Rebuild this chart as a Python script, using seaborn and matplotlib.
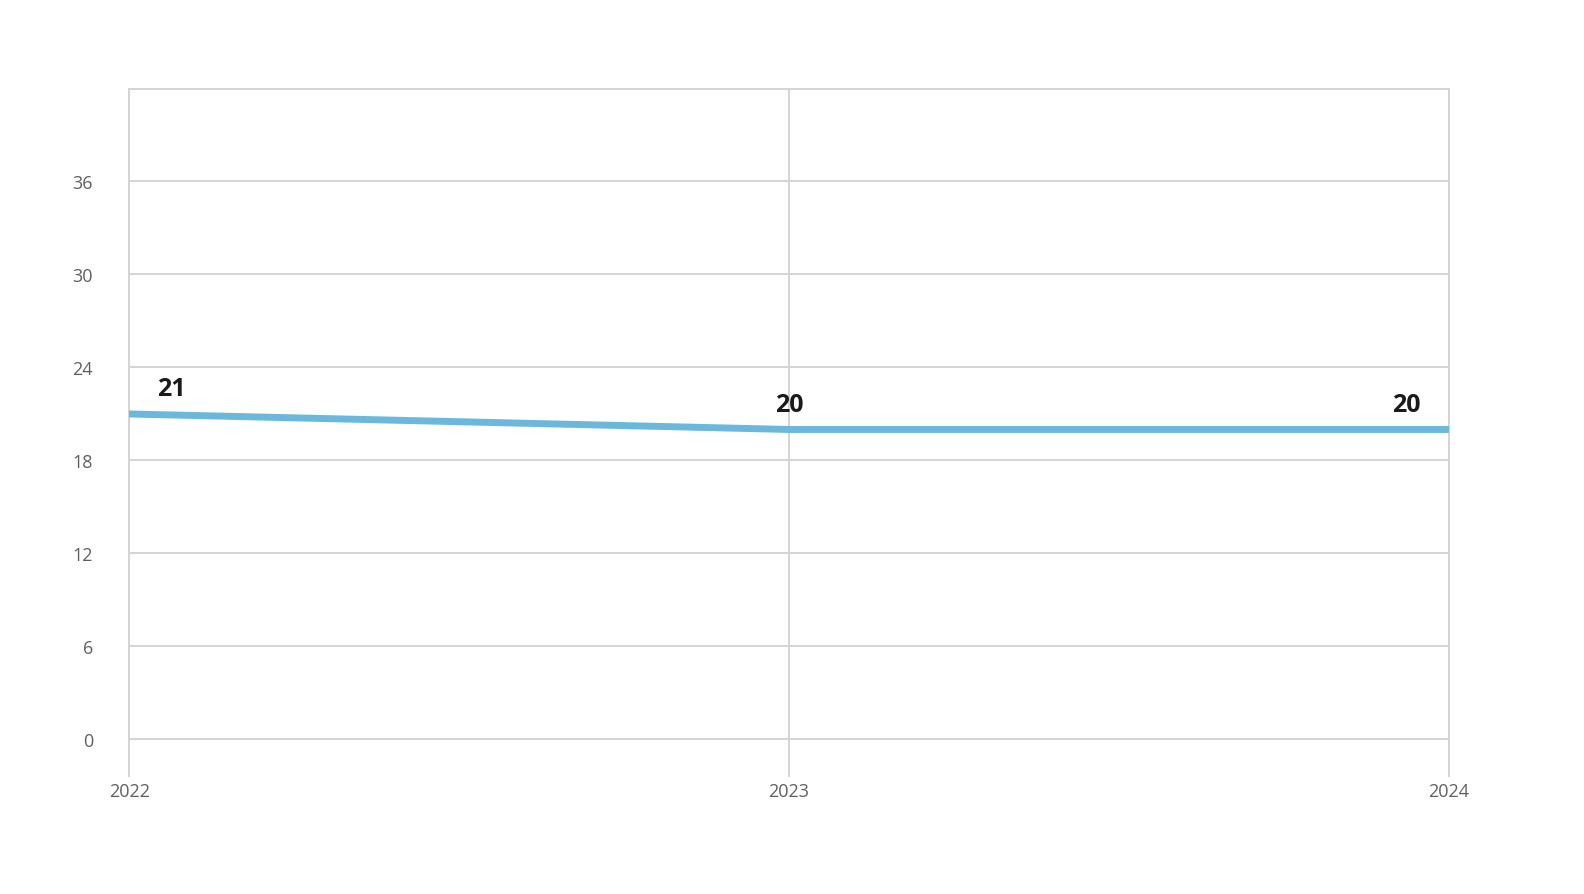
import seaborn as sns
import matplotlib.pyplot as plt
import pandas as pd

years = [2022, 2023, 2024]
values = [21, 20, 20]
y_ticks = [0, 6, 12, 18, 24, 30, 36]

sns.set_theme(style="white")
plt.rcParams["font.family"] = ["Open Sans", "DejaVu Sans"]

grid_c = "#d4d4d4"
df = pd.DataFrame({"year": years, "value": values})

fig = plt.figure(figsize=(15.84, 8.95), dpi=100)
ax = fig.add_axes([0.0816, 0.1727, 0.9145 - 0.0816, 0.9000 - 0.1727])

sns.lineplot(data=df, x="year", y="value", ax=ax, color="#6bb8dc",
             linewidth=5, zorder=3)

ax.set_xlim(years[0], years[-1])
ax.set_ylim(0, 42)
ax.set_xticks(years)
ax.set_yticks(y_ticks)
ax.set_xticklabels([str(y) for y in years])
ax.set_xlabel("")
ax.set_ylabel("")

ax.grid(True, color=grid_c, linewidth=1.4)
ax.set_axisbelow(True)
for s in ax.spines.values():
    s.set_color(grid_c)
    s.set_linewidth(1.4)

ax.tick_params(axis="x", length=27, width=1.4, color=grid_c, pad=4,
               labelsize=13, labelcolor="#606060", bottom=True)
ax.tick_params(axis="y", length=0, pad=26, labelsize=13, labelcolor="#606060")

# value labels
for i, (x, v) in enumerate(zip(years, values)):
    if i == 0:
        ha, dx = "left", 20
    elif i == len(years) - 1:
        ha, dx = "right", -20
    else:
        ha, dx = "center", 0
    ax.annotate(str(v), (x, v), xytext=(dx, 18), textcoords="offset points",
                ha=ha, va="center", fontsize=18, fontweight="bold",
                color="#1a1a1a", zorder=4)

fig.savefig("out.png", dpi=100)
